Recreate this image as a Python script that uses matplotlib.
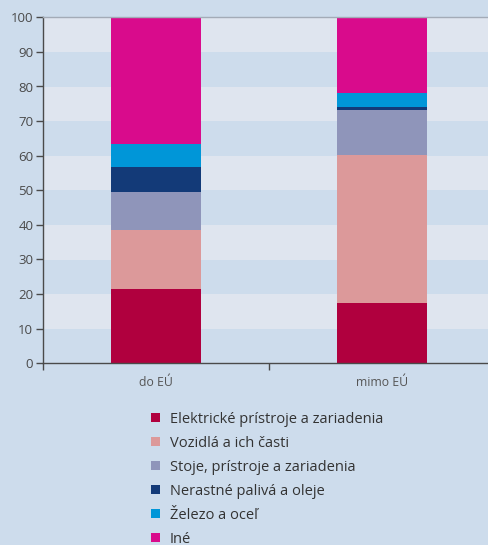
import matplotlib
matplotlib.use("Agg")
import matplotlib.pyplot as plt
from matplotlib.patches import Rectangle
import numpy as np

categories = ["do EÚ", "mimo EÚ"]
series = ["Elektrické prístroje a zariadenia", "Vozidlá a ich časti",
          "Stoje, prístroje a zariadenia", "Nerastné palivá a oleje",
          "Železo a oceľ", "Iné"]
elektricke = [21.6, 17.4]
vozidla = [16.9, 42.8]
stoje = [11.0, 13.0]
nerastne = [7.3, 0.9]
zelezo = [6.6, 4.0]
ine = [36.6, 21.9]
values = [elektricke, vozidla, stoje, nerastne, zelezo, ine]
colors = ["#b0003e", "#dc999a", "#8f95ba", "#133a78", "#0096d8", "#d90b8c"]
yticks = list(range(0, 101, 10))

plt.rcParams['font.family'] = ['Open Sans', 'DejaVu Sans']
bg = "#cddcec"
light = "#dfe5ef"
W, H = 488, 545

fig = plt.figure(figsize=(W/100, H/100), dpi=100, facecolor=bg)
ax = fig.add_axes([43/W, 1 - 363.3/H, 452/W, 346/H])
ax.set_facecolor(bg)
for i in range(10):
    if i % 2 == 1:
        ax.axhspan(i*10, i*10+10, color=light, lw=0, zorder=0)

x = np.array([0.5, 1.5])
bottom = np.zeros(2)
for vals, c, name in zip(values, colors, series):
    ax.bar(x, vals, width=0.40, bottom=bottom, color=c, label=name, zorder=2, lw=0)
    bottom += np.array(vals)

ax.set_xlim(0, 2)
ax.set_ylim(0, 100)
ax.set_yticks(yticks)
ax.set_yticklabels([str(t) for t in yticks], fontsize=9.5, color="#4a4a4a")
ax.set_xticks([0, 1, 2])
ax.set_xticklabels(["", "", ""])
ax.xaxis.set_minor_locator(matplotlib.ticker.FixedLocator(x))
ax.set_xticklabels(categories, minor=True, fontsize=8.8, color="#555555")
ax.tick_params(axis="x", which="minor", length=0, pad=9)
ax.tick_params(axis="x", which="major", length=5, width=1, color="#4a4a4a", direction="out")
ax.tick_params(axis="y", length=5, width=1, color="#4a4a4a", pad=2)
for s in ["left", "bottom"]:
    ax.spines[s].set_color("#4a4a4a")
    ax.spines[s].set_linewidth(1)
ax.spines["right"].set_visible(False)
ax.spines["top"].set_color("#a3abb7")
ax.spines["top"].set_linewidth(1)

# legend, drawn manually in figure pixels
row0, step = 417.7, 24.0
for i, (c, name) in enumerate(zip(colors, series)):
    yc = row0 + i * step
    fig.add_artist(Rectangle((150.5/W, 1 - (yc + 4.5)/H), 9/W, 9/H,
                             transform=fig.transFigure, facecolor=c, edgecolor="none"))
    fig.text(170/W, 1 - yc/H, name, fontsize=10.5, color="#333333",
             va="center_baseline", ha="left")

fig.savefig("out.png", dpi=100, facecolor=bg)
